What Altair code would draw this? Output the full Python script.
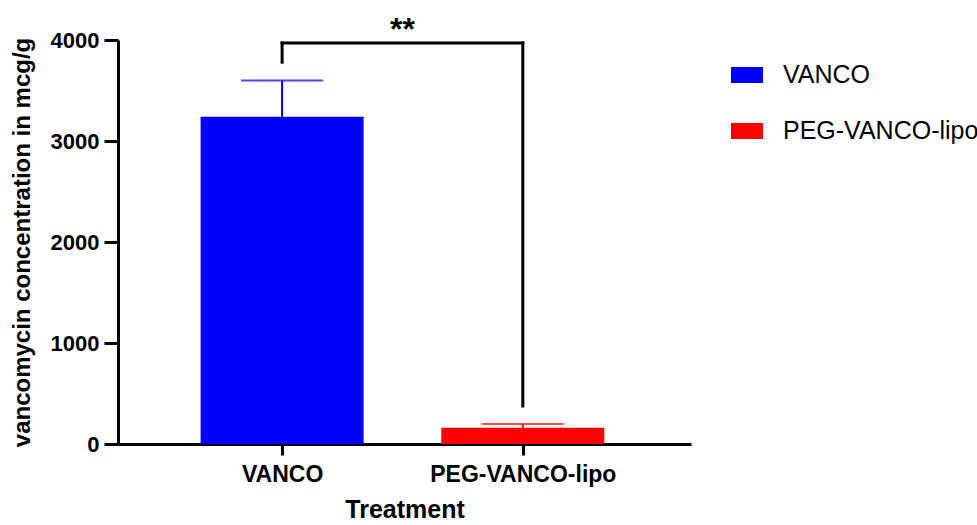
import altair as alt
import pandas as pd

categories = ["VANCO", "PEG-VANCO-lipo"]
means = [3240, 160]
upper = [3600, 198]
colors = ["#0000FF", "#FF0000"]

bracket_top = 3970
bracket_left_bottom = 3780
bracket_right_bottom = 376
sig_label = "**"
sig_y = 4100

pos = [i + 1 for i in range(len(categories))]
df = pd.DataFrame({"cat": categories, "pos": pos, "mean": means, "upper": upper})

FONT = "Liberation Sans"
xscale = alt.Scale(domain=[0.339, 2.678], nice=False, zero=False)
yscale = alt.Scale(domain=[0, 4000], nice=False)
color = alt.Color(
    "cat:N",
    scale=alt.Scale(domain=categories, range=colors),
    legend=alt.Legend(
        title=None,
        orient="none",
        legendX=613,
        legendY=19,
        symbolType="M-1,-0.5L1,-0.5L1,0.5L-1,0.5Z",
        symbolSize=1024,
        symbolStrokeWidth=0,
        symbolOpacity=1,
        labelFont=FONT,
        labelFontSize=25,
        labelColor="black",
        labelOffset=20,
        labelLimit=0,
        rowPadding=27,
    ),
)

label_expr = "datum.value == 1 ? '%s' : datum.value == 2 ? '%s' : ''" % (categories[0], categories[1])

base = alt.Chart(df)

bars = base.mark_bar(size=163).encode(
    x=alt.X(
        "pos:Q",
        scale=xscale,
        axis=alt.Axis(
            values=pos,
            labelExpr=label_expr,
            labelLimit=0,
            title="Treatment",
            grid=False,
            domainColor="black",
            domainWidth=3,
            tickColor="black",
            tickWidth=3,
            tickSize=11,
            labelFont=FONT,
            labelFontWeight="bold",
            labelFontSize=23,
            labelColor="black",
            labelPadding=8,
            titleFont=FONT,
            titleFontWeight="bold",
            titleFontSize=25,
            titleColor="black",
            titlePadding=11,
        ),
    ),
    y=alt.Y(
        "mean:Q",
        scale=yscale,
        axis=alt.Axis(
            values=[0, 1000, 2000, 3000, 4000],
            format="d",
            title="vancomycin concentration in mcg/g",
            grid=False,
            domainColor="black",
            domainWidth=3,
            tickColor="black",
            tickWidth=3,
            tickSize=14,
            labelFont=FONT,
            labelFontWeight="bold",
            labelFontSize=22,
            labelColor="black",
            labelPadding=5,
            titleFont=FONT,
            titleFontWeight="bold",
            titleFontSize=24,
            titleColor="black",
            titlePadding=16,
        ),
    ),
    color=color,
)

err_color = alt.Color("cat:N", scale=alt.Scale(domain=categories, range=colors), legend=None)
err_line = base.mark_rule(strokeWidth=2).encode(x="pos:Q", y="mean:Q", y2="upper:Q", color=err_color)
err_cap = base.mark_tick(orient="horizontal", size=82, thickness=2).encode(x="pos:Q", y="upper:Q", color=err_color)

seg = pd.DataFrame({
    "x": [pos[0], pos[0], pos[1]],
    "x2": [pos[1], pos[0], pos[1]],
    "y": [bracket_top, bracket_left_bottom, bracket_right_bottom],
    "y2": [bracket_top, bracket_top, bracket_top],
})
bracket = alt.Chart(seg).mark_rule(color="black", strokeWidth=3, strokeCap="square").encode(
    x="x:Q", x2="x2:Q", y="y:Q", y2="y2:Q"
)

sig = alt.Chart(pd.DataFrame({"x": [(pos[0] + pos[1]) / 2], "y": [sig_y], "t": [sig_label]})).mark_text(
    font=FONT, fontSize=32, fontWeight="bold", color="black"
).encode(x="x:Q", y="y:Q", text="t:N")

chart = alt.layer(bars, err_line, err_cap, bracket, sig).properties(
    width=573,
    height=404,
    background="white",
    autosize=alt.AutoSizeParams(type="none"),
    padding={"left": 118, "top": 40, "right": 286, "bottom": 81},
).configure_view(stroke=None)

chart.save("out.html", embed_options={"renderer": "svg", "actions": False})
